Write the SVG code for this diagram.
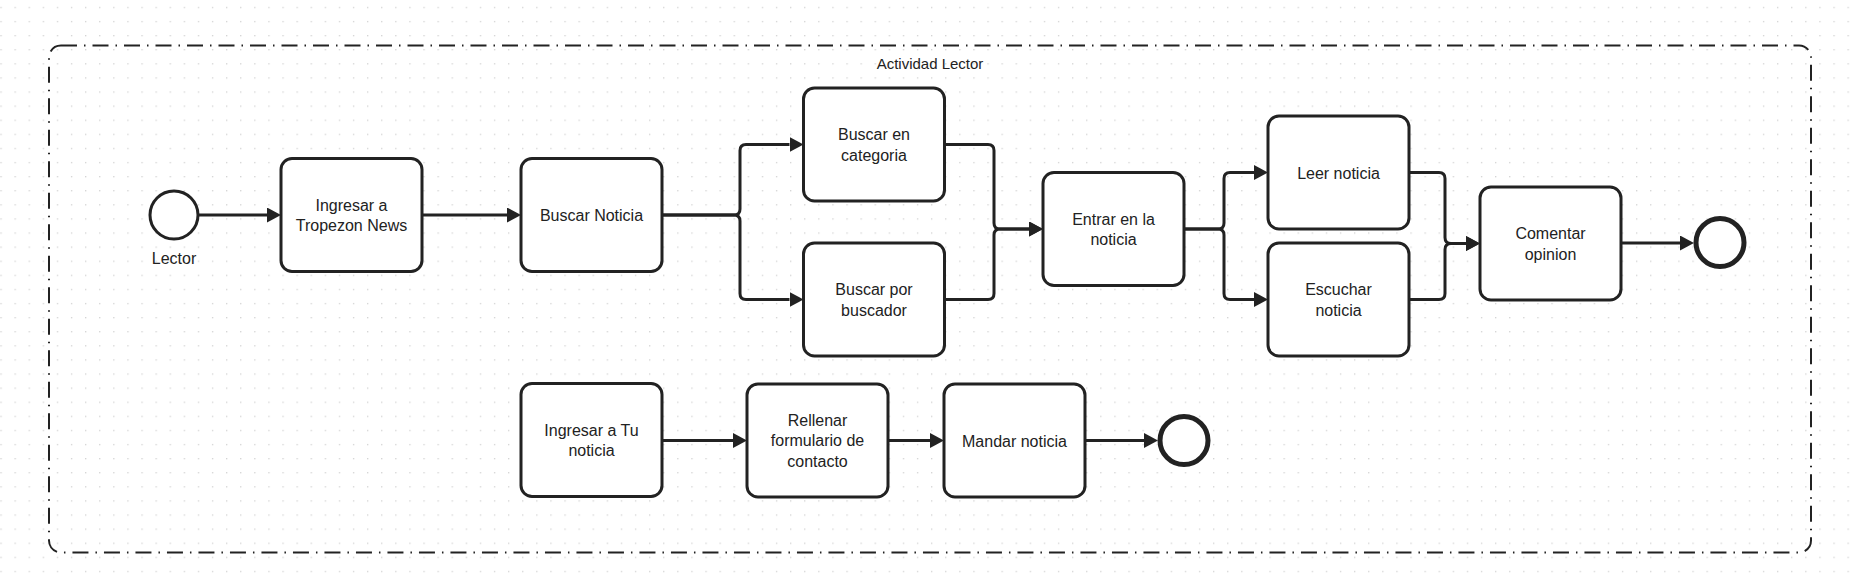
<svg xmlns="http://www.w3.org/2000/svg" width="1851" height="581" viewBox="0 0 1851 581">
  <style>
    .box { fill: #ffffff; stroke: #222222; stroke-width: 3; }
    .lbl { font-family: "Liberation Sans", Arial, sans-serif; font-size: 16px; fill: #222222; text-anchor: middle; }
    .title { font-family: "Liberation Sans", Arial, sans-serif; font-size: 15px; fill: #222222; text-anchor: middle; }
    .conn { fill: none; stroke: #222222; stroke-width: 3; marker-end: url(#arrow); }
    .start { fill: #ffffff; stroke: #222222; stroke-width: 3; }
    .end { fill: #ffffff; stroke: #222222; stroke-width: 5; }
  </style>
  <defs>
    <pattern id="dots" x="0.4" y="6.8" width="14.1" height="14.1" patternUnits="userSpaceOnUse">
      <rect x="0" y="0" width="1.3" height="1.3" fill="#d2d2d2"/>
    </pattern>
    <marker id="arrow" markerUnits="userSpaceOnUse" markerWidth="15" markerHeight="16" refX="0" refY="7.5" orient="auto">
      <path d="M0,0 L14,7.5 L0,15 Z" fill="#222222"/>
    </marker>
  </defs>

  <rect x="0" y="0" width="1851" height="581" fill="#ffffff"/>
  <rect x="0" y="0" width="1851" height="581" fill="url(#dots)"/>

  <g id="container">
    <rect x="49" y="45.5" width="1762" height="507" rx="12" ry="12" fill="none" stroke="#222222" stroke-width="2" stroke-dasharray="16 7 1.5 7"/>
    <text class="title" x="930" y="69">Actividad Lector</text>
  </g>

  <g id="connectors">
    <path class="conn" d="M198,215 H267"/>
    <path class="conn" d="M422,215 H507"/>
    <path class="conn" d="M662,215 H734 Q740,215 740,209 V150.5 Q740,144.5 746,144.5 H789.5"/>
    <path class="conn" d="M662,215 H734 Q740,215 740,221 V293.5 Q740,299.5 746,299.5 H789.5"/>
    <path class="conn" d="M944.5,144.5 H988 Q994,144.5 994,150.5 V223 Q994,229 1000,229 H1029"/>
    <path class="conn" d="M944.5,299.5 H988 Q994,299.5 994,293.5 V235 Q994,229 1000,229 H1029"/>
    <path class="conn" d="M1184,229 H1218 Q1224,229 1224,223 V178.5 Q1224,172.5 1230,172.5 H1254"/>
    <path class="conn" d="M1184,229 H1218 Q1224,229 1224,235 V293.5 Q1224,299.5 1230,299.5 H1254"/>
    <path class="conn" d="M1409,172.5 H1439 Q1445,172.5 1445,178.5 V237.5 Q1445,243.5 1451,243.5 H1466"/>
    <path class="conn" d="M1409,299.5 H1439 Q1445,299.5 1445,293.5 V249.5 Q1445,243.5 1451,243.5 H1466"/>
    <path class="conn" d="M1621,243 H1680"/>
    <path class="conn" d="M662,440.5 H733"/>
    <path class="conn" d="M888,440.5 H930"/>
    <path class="conn" d="M1085,440.5 H1144"/>
  </g>

  <g id="start-lector">
    <circle class="start" cx="174" cy="215" r="24"/>
    <text class="lbl" x="174" y="264">Lector</text>
  </g>

  <g id="ingresar-tropezon">
    <rect class="box" x="281" y="158.5" width="141" height="113" rx="11"/>
    <text class="lbl" x="351.5" y="210.7">Ingresar a</text>
    <text class="lbl" x="351.5" y="231">Tropezon News</text>
  </g>

  <g id="buscar-noticia">
    <rect class="box" x="521" y="158.5" width="141" height="113" rx="11"/>
    <text class="lbl" x="591.5" y="221">Buscar Noticia</text>
  </g>

  <g id="buscar-categoria">
    <rect class="box" x="803.5" y="88" width="141" height="113" rx="11"/>
    <text class="lbl" x="874" y="140.3">Buscar en</text>
    <text class="lbl" x="874" y="160.7">categoria</text>
  </g>

  <g id="buscar-buscador">
    <rect class="box" x="803.5" y="243" width="141" height="113" rx="11"/>
    <text class="lbl" x="874" y="295.3">Buscar por</text>
    <text class="lbl" x="874" y="315.7">buscador</text>
  </g>

  <g id="entrar-noticia">
    <rect class="box" x="1043" y="172.5" width="141" height="113" rx="11"/>
    <text class="lbl" x="1113.5" y="224.8">Entrar en la</text>
    <text class="lbl" x="1113.5" y="245.2">noticia</text>
  </g>

  <g id="leer-noticia">
    <rect class="box" x="1268" y="116" width="141" height="113" rx="11"/>
    <text class="lbl" x="1338.5" y="178.5">Leer noticia</text>
  </g>

  <g id="escuchar-noticia">
    <rect class="box" x="1268" y="243" width="141" height="113" rx="11"/>
    <text class="lbl" x="1338.5" y="295.3">Escuchar</text>
    <text class="lbl" x="1338.5" y="315.7">noticia</text>
  </g>

  <g id="comentar-opinion">
    <rect class="box" x="1480" y="187" width="141" height="113" rx="11"/>
    <text class="lbl" x="1550.5" y="239.3">Comentar</text>
    <text class="lbl" x="1550.5" y="259.7">opinion</text>
  </g>

  <g id="end-1">
    <circle class="end" cx="1720" cy="242.5" r="24"/>
  </g>

  <g id="ingresar-tu-noticia">
    <rect class="box" x="521" y="383.5" width="141" height="113" rx="11"/>
    <text class="lbl" x="591.5" y="435.8">Ingresar a Tu</text>
    <text class="lbl" x="591.5" y="456.2">noticia</text>
  </g>

  <g id="rellenar-formulario">
    <rect class="box" x="747" y="384" width="141" height="113" rx="11"/>
    <text class="lbl" x="817.5" y="425.8">Rellenar</text>
    <text class="lbl" x="817.5" y="446.3">formulario de</text>
    <text class="lbl" x="817.5" y="466.8">contacto</text>
  </g>

  <g id="mandar-noticia">
    <rect class="box" x="944" y="384" width="141" height="113" rx="11"/>
    <text class="lbl" x="1014.5" y="446.5">Mandar noticia</text>
  </g>

  <g id="end-2">
    <circle class="end" cx="1184" cy="440.5" r="24"/>
  </g>
</svg>
